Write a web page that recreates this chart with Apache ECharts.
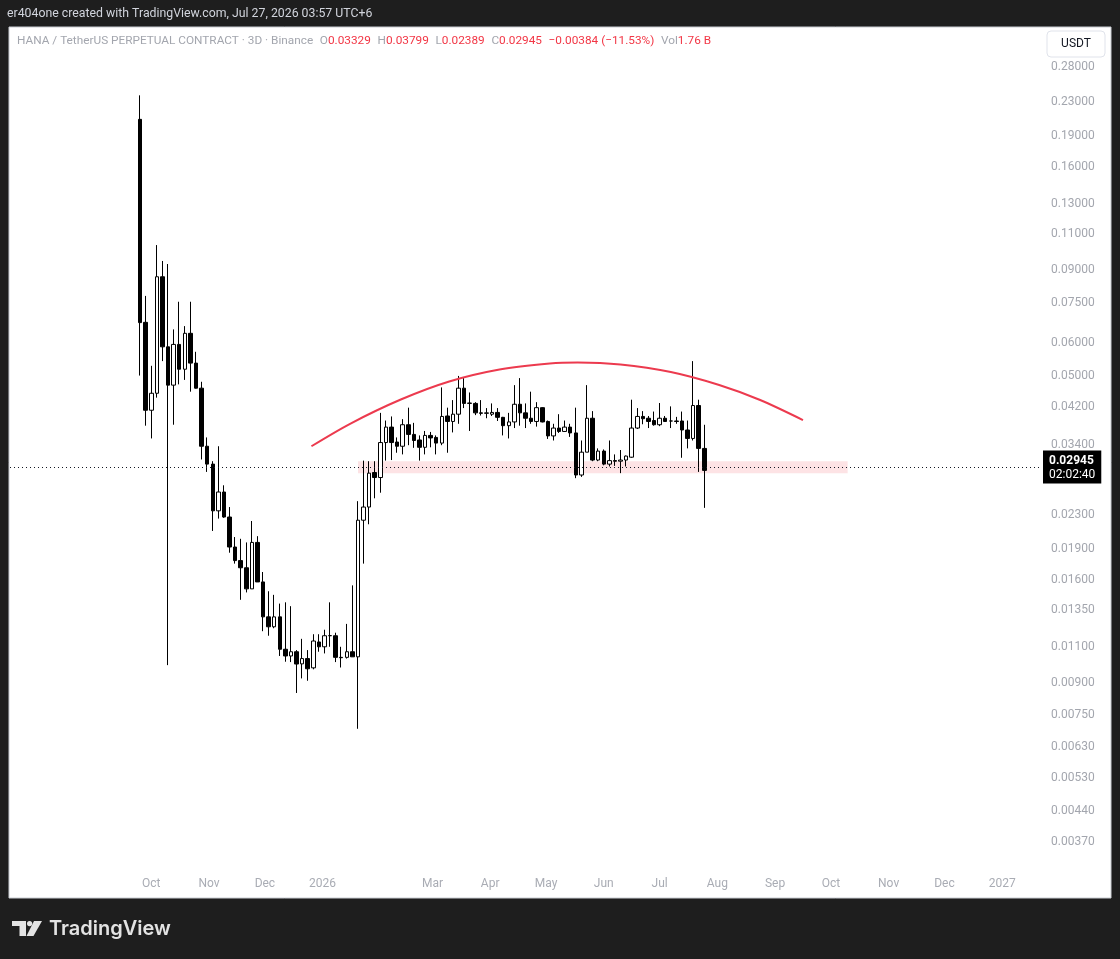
<!DOCTYPE html>
<html>
<head>
<meta charset="utf-8">
<script src="https://cdn.jsdelivr.net/npm/echarts@6/dist/echarts.min.js"></script>
<style>
html,body{margin:0;padding:0;background:#1e1e1e;}
#chart{width:1120px;height:959px;}
</style>
</head>
<body>
<div id="chart"></div>
<script>
// ---- data (3D candles, HANA/USDT perpetual) ----
const firstCandleDate = '2025-09-25';
const candleStepDays = 3;
const opens  = [0.209,0.0673,0.0412,0.0453,0.0868,0.0587,0.0474,0.0595,0.0518,0.0633,
  0.0536,0.0466,0.0337,0.0305,0.0235,0.0261,0.0227,0.0192,0.0178,0.0171,
  0.0152,0.0197,0.0158,0.0130,0.0123,0.0130,0.01085,0.01045,0.0107,0.0100,
  0.0103,0.00978,0.0113,0.0110,0.0117,0.0117,0.01037,0.01037,0.0107,0.0104,
  0.0223,0.0240,0.0291,0.0283,0.0344,0.0375,0.0345,0.0337,0.0380,0.0360,
  0.0349,0.0335,0.0358,0.0354,0.0343,0.0399,0.0387,0.0403,0.0466,0.0428,
  0.0428,0.0406,0.0405,0.0403,0.0407,0.0396,0.0378,0.0386,0.0426,0.0406,
  0.0394,0.0387,0.0418,0.0387,0.0357,0.0373,0.0366,0.0375,0.0363,0.0287,
  0.0326,0.0394,0.0312,0.0328,0.0305,0.0311,0.0310,0.0312,0.0317,0.0373,
  0.0398,0.0394,0.0389,0.0380,0.0394,0.0388,0.0388,0.0388,0.0369,0.0352,
  0.0423,0.03329];
const closes = [0.0672,0.0412,0.0453,0.0868,0.0587,0.0474,0.0595,0.0518,0.0633,0.0536,
  0.0466,0.0337,0.0305,0.0235,0.0261,0.0227,0.0192,0.0178,0.0171,0.0152,
  0.0197,0.0158,0.0130,0.0123,0.0130,0.01085,0.01045,0.0107,0.00999,0.0103,
  0.00973,0.01136,0.0110,0.0117,0.01171,0.01037,0.01035,0.0107,0.0104,0.0223,
  0.0240,0.0290,0.0283,0.0344,0.0375,0.0344,0.0337,0.0380,0.0360,0.0348,
  0.0335,0.0358,0.0353,0.0343,0.0398,0.0387,0.0403,0.0466,0.0428,0.0429,
  0.0406,0.0405,0.0406,0.0407,0.0396,0.0378,0.0386,0.0426,0.0406,0.0394,
  0.0387,0.0418,0.0386,0.0357,0.0373,0.0366,0.0375,0.0363,0.0287,0.0326,
  0.0394,0.0312,0.0328,0.0305,0.0311,0.0310,0.0312,0.0319,0.0373,0.0398,
  0.0393,0.0387,0.0380,0.0394,0.0387,0.0388,0.0387,0.0369,0.0352,0.0423,
  0.0333,0.02945];
const lows   = [0.0500,0.0378,0.0352,0.0442,0.0542,0.00993,0.0380,0.0476,0.0488,0.0457,
  0.0465,0.0313,0.0292,0.0210,0.0225,0.0226,0.0186,0.0175,0.0143,0.0149,
  0.0152,0.0158,0.0120,0.0117,0.0122,0.01045,0.01012,0.0101,0.0085,0.00922,
  0.0091,0.0097,0.0107,0.0106,0.0110,0.0101,0.0098,0.0103,0.0104,0.00696,
  0.0175,0.0218,0.0252,0.0260,0.0311,0.0312,0.0325,0.0322,0.0339,0.0334,
  0.0311,0.0322,0.0335,0.0322,0.0339,0.0325,0.0364,0.0382,0.0417,0.0367,
  0.0401,0.0400,0.0394,0.0399,0.0388,0.0358,0.0352,0.0373,0.0378,0.0373,
  0.0382,0.0376,0.0385,0.0351,0.0348,0.0363,0.0365,0.0355,0.0282,0.0284,
  0.0326,0.0310,0.0310,0.0303,0.0301,0.0302,0.0290,0.0301,0.0316,0.0371,
  0.0381,0.0373,0.0378,0.0377,0.0386,0.0373,0.0382,0.0316,0.0333,0.0348,
  0.0292,0.02389];
const highs  = [0.239,0.0780,0.0528,0.1036,0.0948,0.0932,0.0647,0.0755,0.0659,0.0755,
  0.0571,0.0483,0.0354,0.0310,0.0337,0.0271,0.0240,0.0203,0.0201,0.0197,
  0.0222,0.0204,0.0167,0.0150,0.0147,0.0140,0.0141,0.0138,0.0108,0.0115,
  0.0108,0.0118,0.0118,0.0121,0.0141,0.0119,0.0110,0.0125,0.0155,0.0248,
  0.0311,0.0310,0.0310,0.0406,0.0389,0.0398,0.0354,0.0392,0.0418,0.0384,
  0.0358,0.0367,0.0365,0.0358,0.0468,0.0418,0.0436,0.0499,0.0493,0.0455,
  0.0431,0.0436,0.0417,0.0428,0.0417,0.0397,0.0406,0.0474,0.0493,0.0428,
  0.0457,0.0431,0.0419,0.0389,0.0382,0.0403,0.0389,0.0382,0.0418,0.0348,
  0.0474,0.0410,0.0333,0.0331,0.0348,0.0322,0.0330,0.0320,0.0437,0.0417,
  0.0410,0.0399,0.0409,0.0429,0.0399,0.0421,0.0397,0.0409,0.0389,0.0542,
  0.0437,0.03799];
const lastPrice = 0.02945;
const countdown = '02:02:40';

// price scale tick labels (log scale)
const priceTicks = [0.28,0.23,0.19,0.16,0.13,0.11,0.09,0.075,0.06,0.05,0.042,0.034,
  0.023,0.019,0.016,0.0135,0.011,0.009,0.0075,0.0063,0.0053,0.0044,0.0037];
// time scale tick labels (month starts)
const timeTicks = ['2025-10-01','2025-11-01','2025-12-01','2026-01-01','2026-03-01','2026-04-01',
  '2026-05-01','2026-06-01','2026-07-01','2026-08-01','2026-09-01','2026-10-01',
  '2026-11-01','2026-12-01','2027-01-01'];
const monthNames = ['Jan','Feb','Mar','Apr','May','Jun','Jul','Aug','Sep','Oct','Nov','Dec'];

// drawn arc (rounding top)
const arcDates  = ['2025-12-26','2026-01-16','2026-02-12','2026-03-10','2026-04-06','2026-05-03',
  '2026-05-18','2026-06-10','2026-07-07','2026-08-02','2026-08-24','2026-09-16'];
const arcPrices = [0.0337,0.03825,0.04374,0.04838,0.05173,0.0535,0.0538,0.0532,0.0510,0.04744,0.04362,0.0390];

// support zone rectangle
const zoneDates  = ['2026-01-20','2026-10-10'];
const zonePrices = [0.0310,0.0290];

// ---- build ----
function parseDay(s){const p=s.split('-').map(Number);return new Date(p[0],p[1]-1,p[2]).getTime();}
const DAY = 86400000;
const t0 = parseDay(firstCandleDate);
const candleDates = opens.map((_, i) => t0 + i * candleStepDays * DAY);
const candleData = candleDates.map((t, i) => [t, opens[i], closes[i], lows[i], highs[i]]);
const arcData = arcDates.map((d, i) => [parseDay(d), arcPrices[i]]);

const xMin = parseDay('2025-10-01') - 75.9 * DAY;
const xMax = parseDay('2025-10-01') + 477.3 * DAY;

const FONT = 'Roboto, "Liberation Sans", sans-serif';
const chart = echarts.init(document.getElementById('chart'), null, {renderer: 'canvas'});
chart.setOption({
  animation: false,
  backgroundColor: '#1e1e1e',
  grid: {left: 10, right: 80, top: 27, bottom: 89, containLabel: false, outerBoundsMode: 'none'},
  xAxis: {
    type: 'value', min: xMin, max: xMax, scale: true,
    axisLine: {show: false}, axisTick: {show: false}, splitLine: {show: false},
    axisLabel: {
      customValues: timeTicks.map(parseDay),
      hideOverlap: false,
      color: '#a9acb4', fontSize: 12, fontFamily: FONT, margin: 8,
      formatter: function (v) { const d = new Date(v); return d.getMonth() === 0 ? String(d.getFullYear()) : monthNames[d.getMonth()]; }
    }
  },
  yAxis: {
    type: 'log', logBase: 10, position: 'right', min: 0.003164, max: 0.35,
    axisLine: {show: false}, axisTick: {show: false}, splitLine: {show: false},
    axisLabel: {
      customValues: priceTicks,
      color: '#a3a6ae', fontSize: 12, fontFamily: FONT, margin: 11, align: 'left',
      formatter: function (v) { return Number(v).toFixed(5); }
    }
  },
  series: [
    {
      type: 'candlestick',
      data: candleData,
      encode: {x: 0, y: [1, 2, 3, 4]},
      barWidth: 4,
      itemStyle: {color: '#ffffff', color0: '#000000', borderColor: '#000000', borderColor0: '#000000', borderWidth: 1},
      markArea: {
        silent: true,
        itemStyle: {color: 'rgba(242,54,69,0.14)'},
        data: [[{xAxis: parseDay(zoneDates[0]), yAxis: zonePrices[0]}, {xAxis: parseDay(zoneDates[1]), yAxis: zonePrices[1]}]]
      },
      markLine: {
        silent: true, symbol: ['none', 'none'],
        lineStyle: {type: [1, 3], color: '#131722', width: 1},
        label: {
          position: 'end', distance: 3,
          backgroundColor: '#000000', padding: [3, 6, 2, 6], borderRadius: 0,
          formatter: function () { return '{a|' + lastPrice.toFixed(5) + '}\n{b|' + countdown + '}'; },
          rich: {
            a: {color: '#ffffff', fontSize: 12, fontWeight: 'bold', fontFamily: FONT, lineHeight: 14},
            b: {color: '#ffffff', fontSize: 12, fontFamily: FONT, lineHeight: 14}
          }
        },
        data: [{yAxis: lastPrice}]
      },
      z: 3
    },
    {
      type: 'line',
      data: arcData,
      smooth: 0.3,
      showSymbol: false,
      lineStyle: {color: '#ec3a4e', width: 2},
      z: 4
    }
  ],
  graphic: [
    {type: 'rect', silent: true, z: -10, shape: {x: 9, y: 27, width: 1102, height: 871},
     style: {fill: '#ffffff', stroke: '#c9ccd2', lineWidth: 1}},
    {type: 'text', silent: true, x: 7, y: 14,
     style: {text: 'er404one created with TradingView.com, Jul 27, 2026 03:57 UTC+6', fill: '#d1d4dc', fontSize: 12.3, fontFamily: FONT, verticalAlign: 'middle'}},
    {type: 'text', silent: true, x: 17, y: 41,
     style: {
       text: '{g|HANA / TetherUS PERPETUAL CONTRACT · 3D · Binance}  {g|O}{r|0.03329}  {g|H}{r|0.03799}  {g|L}{r|0.02389}  {g|C}{r|0.02945}  {r|−0.00384 (−11.53%)}  {g|Vol}{r|1.76 B}',
       verticalAlign: 'middle',
       rich: {
         g: {fill: '#a3a6ae', fontSize: 11.8, fontFamily: FONT},
         r: {fill: '#f23645', fontSize: 11.8, fontFamily: FONT}
       }
     }},
    {type: 'rect', silent: true, shape: {x: 1047, y: 31, width: 58, height: 26, r: 4},
     style: {fill: '#ffffff', stroke: '#e0e3eb', lineWidth: 1}},
    {type: 'text', silent: true, x: 1076, y: 44,
     style: {text: 'USDT', fill: '#131722', fontSize: 12, fontFamily: FONT, align: 'center', verticalAlign: 'middle'}},
    // TradingView logo
    {type: 'polygon', silent: true, shape: {points: [[12,921],[26,921],[26,936],[19.5,936],[19.5,926],[12,926]]}, style: {fill: '#e3e3e3'}},
    {type: 'circle', silent: true, shape: {cx: 29.6, cy: 923.6, r: 2.6}, style: {fill: '#e3e3e3'}},
    {type: 'polygon', silent: true, shape: {points: [[34,921],[42,921],[33.5,936],[26.5,936]]}, style: {fill: '#e3e3e3'}},
    {type: 'text', silent: true, x: 49, y: 929,
     style: {text: 'TradingView', fill: '#e3e3e3', fontSize: 20, fontWeight: 600, fontFamily: 'Inter, Roboto, sans-serif', verticalAlign: 'middle'}}
  ]
});
</script>
</body>
</html>
